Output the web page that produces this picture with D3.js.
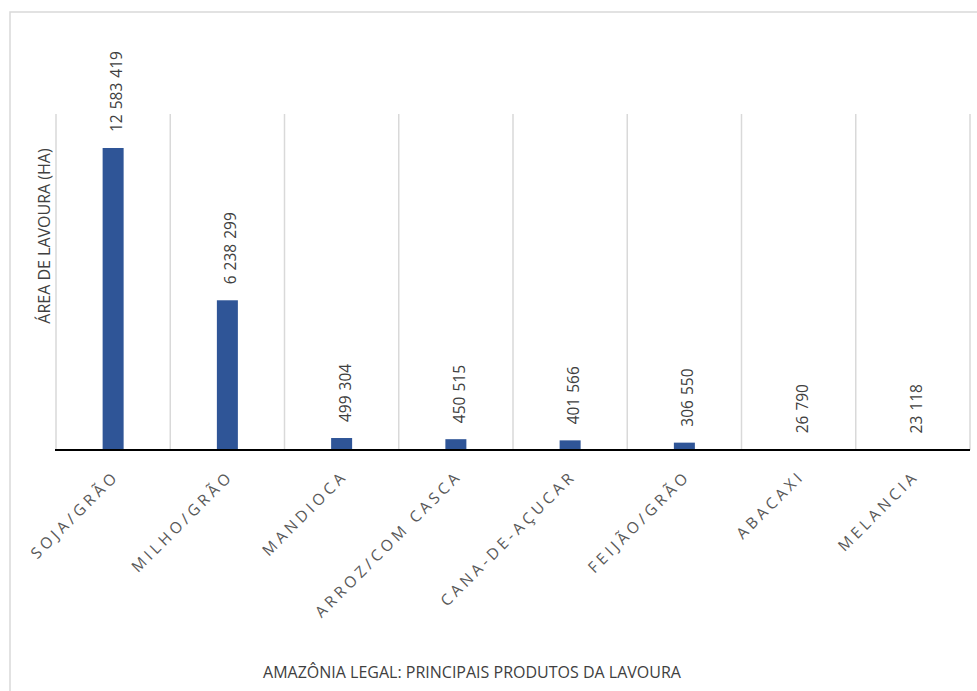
<!DOCTYPE html>
<html>
<head>
<meta charset="utf-8">
<script src="https://cdn.jsdelivr.net/npm/d3@7"></script>
<style>
  html, body { margin: 0; padding: 0; background: #fff; }
  svg { display: block; font-family: "Open Sans", sans-serif; }
</style>
</head>
<body>
<svg id="chart" width="977" height="691"></svg>
<script>
// Área plantada por produto (ha)
const categories = ["SOJA/GRÃO", "MILHO/GRÃO", "MANDIOCA", "ARROZ/COM CASCA", "CANA-DE-AÇUCAR", "FEIJÃO/GRÃO", "ABACAXI", "MELANCIA"];
const values = [12583419, 6238299, 499304, 450515, 401566, 306550, 26790, 23118];
const valueLabels = ["12 583 419", "6 238 299", "499 304", "450 515", "401 566", "306 550", "26 790", "23 118"];
const yTitle = "ÁREA DE LAVOURA (HA)";
const xTitle = "AMAZÔNIA LEGAL: PRINCIPAIS PRODUTOS DA LAVOURA";

const svg = d3.select("#chart");

// outer frame of the chart area
svg.append("rect")
  .attr("x", 10).attr("y", 12)
  .attr("width", 1000).attr("height", 720)
  .attr("fill", "#fff")
  .attr("stroke", "#d9d9d9")
  .attr("stroke-width", 1.5);

const plot = { left: 56, right: 970, top: 114, bottom: 450 };

const x = d3.scaleBand()
  .domain(categories)
  .range([plot.left, plot.right])
  .paddingInner(0).paddingOuter(0);

const y = d3.scaleLinear()
  .domain([0, 14000000])
  .range([plot.bottom, plot.top]);

// vertical separators between categories
const bounds = categories.map(c => x(c)).concat([plot.right]);
svg.append("g").selectAll("line")
  .data(bounds)
  .join("line")
  .attr("x1", d => d).attr("x2", d => d)
  .attr("y1", plot.top).attr("y2", plot.bottom)
  .attr("stroke", "#d9d9d9")
  .attr("stroke-width", 1.5);

// bars
const barW = 21;
svg.append("g").selectAll("rect")
  .data(values)
  .join("rect")
  .attr("x", (d, i) => x(categories[i]) + x.bandwidth() / 2 - barW / 2)
  .attr("y", d => y(d))
  .attr("width", barW)
  .attr("height", d => y(0) - y(d))
  .attr("fill", "#2f5597");

// value labels, rotated above each bar
svg.append("g").selectAll("text")
  .data(values)
  .join("text")
  .attr("transform", (d, i) => {
    const cx = x(categories[i]) + x.bandwidth() / 2;
    return `translate(${cx + 9},${y(d) - 16}) rotate(-90)`;
  })
  .attr("text-anchor", "start")
  .attr("font-size", 15.5)
  .attr("word-spacing", "1px")
  .attr("fill", "#404040")
  .text((d, i) => valueLabels[i]);

// category axis
const xAxis = d3.axisBottom(x).tickSize(0).tickPadding(0);
const gx = svg.append("g")
  .attr("transform", `translate(0,${plot.bottom})`)
  .call(xAxis);
gx.select(".domain")
  .attr("d", `M${plot.left - 1},0H${plot.right}`)
  .attr("stroke", "#000")
  .attr("stroke-width", 2);
gx.selectAll(".tick text")
  .attr("x", 0).attr("y", 0).attr("dy", 0)
  .attr("transform", "translate(7,27) rotate(-45)")
  .attr("text-anchor", "end")
  .attr("font-family", "Open Sans, sans-serif")
  .attr("font-size", 15.5)
  .attr("letter-spacing", "3.8px")
  .attr("fill", "#595959");

// axis titles
svg.append("text")
  .attr("transform", "translate(50,236) rotate(-90)")
  .attr("text-anchor", "middle")
  .attr("font-size", 16)
  .attr("fill", "#404040")
  .text(yTitle);

svg.append("text")
  .attr("x", 472).attr("y", 678)
  .attr("text-anchor", "middle")
  .attr("font-size", 16)
  .attr("fill", "#404040")
  .text(xTitle);
</script>
</body>
</html>
